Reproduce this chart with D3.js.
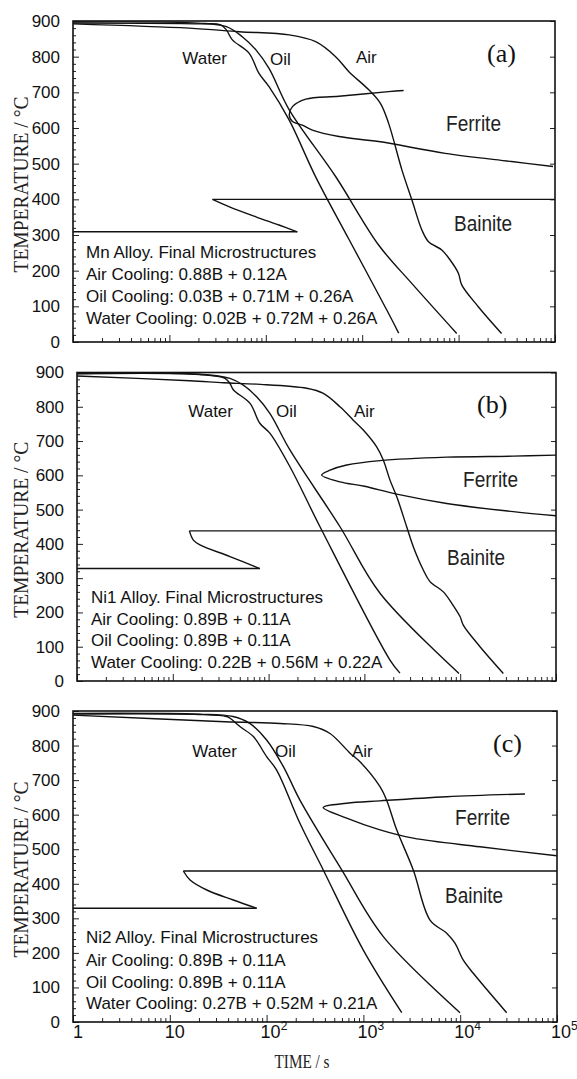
<!DOCTYPE html>
<html lang="en">
<head>
<meta charset="utf-8">
<title>CCT diagrams - Mn, Ni1, Ni2 alloys</title>
<script src="https://cdn.jsdelivr.net/npm/d3@7"></script>
<style>
  body { margin: 0; background: #fff; }
  svg { display: block; background: #fff; }
  .axis text { font: 17px "Liberation Sans", Arial, sans-serif; fill: #111; }
  .axis line { stroke: #222; stroke-width: 1; }
  .frame { fill: none; stroke: #111; stroke-width: 1.6; }
  .curve { fill: none; stroke: #111; stroke-width: 1.4; }
  .lbl { font: 17px "Liberation Sans", Arial, sans-serif; fill: #111; }
  .phase { font: 22px "Liberation Sans", Arial, sans-serif; fill: #222; }
  .letter { font: 26px "Liberation Serif", "Times New Roman", serif; fill: #111; }
  .title { font: 21px "Liberation Serif", "Times New Roman", serif; fill: #222; }
</style>
</head>
<body>
<svg id="chart" width="577" height="1079"></svg>
<script>
// ---------- data (time in s, temperature in °C) ----------
var panelLetters = ["(a)", "(b)", "(c)"];
var curveNames = ["Water", "Oil", "Air"];
var phaseNames = ["Ferrite", "Bainite"];
var yTicks = [0, 100, 200, 300, 400, 500, 600, 700, 800, 900];
var xTicks = [1, 10, 100, 1000, 10000, 100000];

// (a) Mn alloy
var waterA = [[1,894],[20,892],[34,889],[39,875],[45,847],[67,810],[85,753],[108,716],[175,622],[329,463],[728,288],[1880,80],[2390,25]];
var oilA = [[1,897],[20,894],[39,884],[57,856],[79,819],[108,767],[175,651],[530,464],[1480,272],[3250,165],[9560,24]];
var airA = [[1,892],[16,880],[53,870],[175,861],[329,842],[530,800],[728,758],[1170,707],[1545,669],[1880,613],[2585,482],[3280,398],[4160,314],[4880,281],[6690,258],[8170,230],[9950,193],[10770,160],[16000,99],[27900,24]];
var ferriteA = [[2690,705],[1880,702],[573,689],[260,681],[189,660],[175,637],[189,618],[239,608],[304,594],[573,576],[1480,562],[7250,529],[35400,506],[95400,492]];
var bainiteA = [[28,400],[42,379],[79,351],[137,328],[212,309]];
var bsA = 400, msA = 309;
var notesA = ["Mn Alloy. Final Microstructures", "Air Cooling: 0.88B + 0.12A", "Oil Cooling: 0.03B + 0.71M + 0.26A", "Water Cooling: 0.02B + 0.72M + 0.26A"];

// (b) Ni1 alloy
var waterB = [[1,896],[19,894],[35,883],[39.5,868],[43,849],[64,810],[81,752],[103,723],[167,625],[344,450],[1850,61],[2350,23]];
var oilB = [[1,897],[19,895],[39.5,883],[54.5,863],[75,829],[103,781],[167,674],[556,450],[1455,256],[9710,22]];
var airB = [[1,890],[15,876],[34,870],[75,866],[250,854],[373,839],[556,800],[765,761],[974,732],[1343,683],[1574,645],[1850,586],[2174,538],[2763,450],[3239,392],[4120,324],[4840,290],[6670,260],[8150,227],[9960,188],[10770,163],[16100,100],[28200,22]];
var ferriteB = [[100000,659],[35800,656],[7230,653],[1455,643],[653,630],[438,615],[358,601],[556,581],[1000,568],[2174,545],[7230,518],[35800,494],[100000,482]];
var bainiteB = [[14.9,438],[16.4,411],[19.2,397],[39.5,363],[81,328]];
var bsB = 438, msB = 328;
var notesB = ["Ni1 Alloy. Final Microstructures", "Air Cooling: 0.89B + 0.11A", "Oil Cooling: 0.89B + 0.11A", "Water Cooling: 0.22B + 0.56M + 0.22A"];

// (c) Ni2 alloy
var waterC = [[1,891],[20,890],[38.7,884],[42,879],[53,855],[73,826],[100,768],[127,729],[221,575],[385,440],[998,208],[2490,27]];
var oilC = [[1,893],[20,891],[45,884],[67,864],[100,816],[149,739],[221,642],[597,440],[1606,247],[9950,27]];
var airC = [[1,888],[37,869],[138,864],[304,855],[452,835],[728,778],[922,753],[1484,681],[1738,642],[2208,556],[3276,440],[4876,295],[7254,257],[8830,228],[10770,179],[13650,141],[30200,27]];
var ferriteC = [[46700,660],[7254,652],[1484,640],[672,633],[385,621],[672,590],[1484,556],[3276,532],[16000,507],[99300,481]];
var bainiteC = [[13.8,437],[16.2,411],[24.1,382],[45.3,353],[79,329]];
var bsC = 437, msC = 329;
var notesC = ["Ni2 Alloy. Final Microstructures", "Air Cooling: 0.89B + 0.11A", "Oil Cooling: 0.89B + 0.11A", "Water Cooling: 0.27B + 0.52M + 0.21A"];

var panels = [
  { water: waterA, oil: oilA, air: airA, ferrite: ferriteA, bainite: bainiteA, bs: bsA, ms: msA, notes: notesA },
  { water: waterB, oil: oilB, air: airB, ferrite: ferriteB, bainite: bainiteB, bs: bsB, ms: msB, notes: notesB },
  { water: waterC, oil: oilC, air: airC, ferrite: ferriteC, bainite: bainiteC, bs: bsC, ms: msC, notes: notesC }
];

// ---------- layout (pixels) ----------
var layout = [
  { left: 73, right: 555, top: 21, bottom: 342,
    water: [227, 64], oil: [270, 65], air: [356, 63], letter: [487, 62], ferrite: [446, 131], bainite: [454, 231],
    noteX: 86, noteY: [258, 280, 302, 324] },
  { left: 77, right: 556, top: 372.5, bottom: 681,
    water: [233, 417], oil: [276, 417], air: [354, 417], letter: [477, 413], ferrite: [463, 487], bainite: [447, 565],
    noteX: 91, noteY: [603, 625, 646, 668] },
  { left: 73, right: 557, top: 711, bottom: 1022,
    water: [237, 757], oil: [275, 757], air: [352, 757], letter: [493, 752], ferrite: [455, 825], bainite: [445, 903],
    noteX: 86, noteY: [943, 966, 988, 1009] }
];

var svg = d3.select("#chart");

var yMinor = d3.range(0, 901, 20).filter(function(v) { return v % 100 !== 0; });
var xMinor = [];
[1, 10, 100, 1000, 10000].forEach(function(dec) {
  for (var k = 2; k <= 9; k++) xMinor.push(dec * k);
});

function noDomain(sel) { sel.select(".domain").remove(); }

panels.forEach(function(p, i) {
  var L = layout[i];
  var x = d3.scaleLog().domain([1, 100000]).range([L.left, L.right]);
  var y = d3.scaleLinear().domain([0, 900]).range([L.bottom, L.top]);
  var g = svg.append("g");

  var line = d3.line()
    .x(function(d) { return x(d[0]); })
    .y(function(d) { return y(d[1]); })
    .curve(d3.curveCatmullRom.alpha(0.5));
  var straight = d3.line()
    .x(function(d) { return x(d[0]); })
    .y(function(d) { return y(d[1]); });

  // axes, ticks inward
  g.append("g").attr("class", "axis").attr("transform", "translate(" + L.left + ",0)")
    .call(d3.axisLeft(y).tickValues(yTicks).tickSize(-6).tickSizeOuter(0).tickPadding(13))
    .call(noDomain);
  g.append("g").attr("class", "axis").attr("transform", "translate(" + L.left + ",0)")
    .call(d3.axisLeft(y).tickValues(yMinor).tickSize(-3).tickSizeOuter(0).tickFormat(""))
    .call(noDomain);
  g.append("g").attr("class", "axis").attr("transform", "translate(" + L.right + ",0)")
    .call(d3.axisRight(y).tickValues(yTicks).tickSize(-5).tickSizeOuter(0).tickFormat(""))
    .call(noDomain);
  g.append("g").attr("class", "axis").attr("transform", "translate(0," + L.bottom + ")")
    .call(d3.axisBottom(x).tickValues(xTicks).tickSize(-7).tickSizeOuter(0).tickFormat(""))
    .call(noDomain);
  g.append("g").attr("class", "axis").attr("transform", "translate(0," + L.bottom + ")")
    .call(d3.axisBottom(x).tickValues(xMinor).tickSize(-4).tickSizeOuter(0).tickFormat(""))
    .call(noDomain);

  g.append("rect").attr("class", "frame")
    .attr("x", L.left).attr("y", L.top)
    .attr("width", L.right - L.left).attr("height", L.bottom - L.top);

  // cooling curves
  [p.water, p.oil, p.air].forEach(function(c) {
    g.append("path").attr("class", "curve").attr("d", line(c));
  });

  // ferrite C-curve
  g.append("path").attr("class", "curve").attr("d", line(p.ferrite));

  // bainite start line, C-curve and Ms line
  var b = p.bainite;
  g.append("path").attr("class", "curve").attr("d", straight([[100000, p.bs], b[0]]));
  g.append("path").attr("class", "curve").attr("d", line(b));
  g.append("path").attr("class", "curve").attr("d", straight([b[b.length - 1], [1, p.ms]]));

  // labels
  g.append("text").attr("class", "lbl").attr("text-anchor", "end")
    .attr("x", L.water[0]).attr("y", L.water[1]).text(curveNames[0]);
  g.append("text").attr("class", "lbl")
    .attr("x", L.oil[0]).attr("y", L.oil[1]).text(curveNames[1]);
  g.append("text").attr("class", "lbl")
    .attr("x", L.air[0]).attr("y", L.air[1]).text(curveNames[2]);
  g.append("text").attr("class", "letter")
    .attr("x", L.letter[0]).attr("y", L.letter[1]).text(panelLetters[i]);
  g.append("text").attr("class", "phase")
    .attr("x", L.ferrite[0]).attr("y", L.ferrite[1])
    .attr("textLength", 55).attr("lengthAdjust", "spacingAndGlyphs").text(phaseNames[0]);
  g.append("text").attr("class", "phase")
    .attr("x", L.bainite[0]).attr("y", L.bainite[1])
    .attr("textLength", 58).attr("lengthAdjust", "spacingAndGlyphs").text(phaseNames[1]);

  g.selectAll("text.note").data(p.notes).enter().append("text")
    .attr("class", "lbl note")
    .attr("x", L.noteX)
    .attr("y", function(d, k) { return L.noteY[k]; })
    .text(function(d) { return d; });

  // y title
  var cy = (L.top + L.bottom) / 2 + 3;
  g.append("text").attr("class", "title")
    .attr("transform", "translate(28," + cy + ") rotate(-90)")
    .attr("text-anchor", "middle")
    .attr("textLength", 176).attr("lengthAdjust", "spacingAndGlyphs")
    .text("TEMPERATURE / °C");

  // x tick labels only under the last panel
  if (i === panels.length - 1) {
    var xl = g.append("g");
    xTicks.forEach(function(t, k) {
      var tx = xl.append("text").attr("class", "lbl").attr("y", L.bottom + 16)
        .style("font-size", "18px");
      if (k < 2) {
        tx.attr("x", x(t) + 5).attr("text-anchor", "middle").text(String(t));
      } else {
        tx.attr("x", x(t) - 6).attr("text-anchor", "start");
        tx.append("tspan").text("10");
        tx.append("tspan").attr("dy", -8).style("font-size", "12px").text(String(k));
      }
    });
    g.append("text").attr("class", "title")
      .attr("x", 302).attr("y", L.bottom + 46)
      .attr("text-anchor", "middle")
      .style("font-size", "18px")
      .attr("textLength", 55).attr("lengthAdjust", "spacingAndGlyphs")
      .text("TIME / s");
  }
});
</script>
</body>
</html>
